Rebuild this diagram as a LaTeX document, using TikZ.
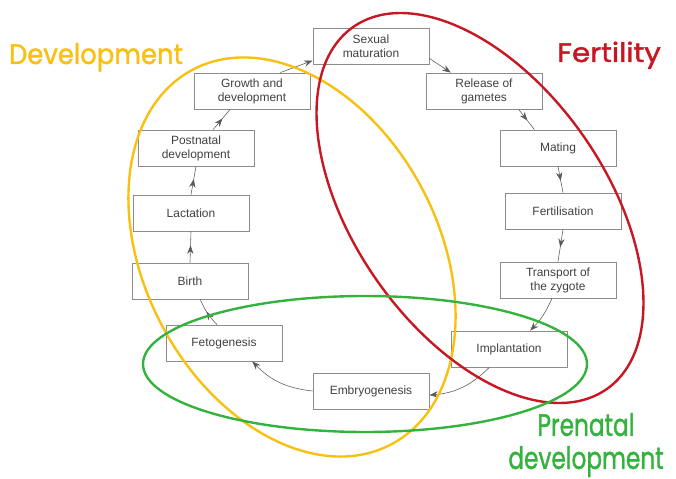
\documentclass[tikz,border=0pt]{standalone}
\usepackage{fontspec}
\setmainfont{Liberation Sans}
\newfontfamily\titlefont{Poppins}[FakeBold=1.4]
\usetikzlibrary{arrows.meta,decorations.markings}
\definecolor{gelb}{RGB}{248,192,16}
\definecolor{rot}{RGB}{200,22,34}
\definecolor{gruen}{RGB}{52,178,62}
\tikzstyle{stage} = [draw=black!45,line width=0.6pt,minimum width=2.9cm,minimum height=0.9cm,inner sep=1pt,align=center,font=\fontsize{8.5}{10}\selectfont,text=black!75]
\tikzstyle{flow} = [draw=black!65,thin,-{Stealth[length=6pt,width=4.5pt]}]
\tikzstyle{midflow} = [draw=black!65,thin,postaction={decorate},decoration={markings,mark=at position 0.55 with {\arrow{Stealth[length=6pt,width=4.5pt]}}}]
\tikzstyle{ring} = [line width=1.7pt]
\tikzstyle{title} = [anchor=base,inner sep=0pt,font=\titlefont]

\begin{document}
\begin{tikzpicture}[x=0.025cm,y=-0.025cm]
\useasboundingbox (0,0) rectangle (676,479);
% stages of the cycle
\node[stage] (sexual) at (371,46) {Sexual\\maturation};
\node[stage] (release) at (484,91) {Release of\\gametes};
\node[stage] (mating) at (558,148) {Mating};
\node[stage] (fertil) at (563,211) {Fertilisation};
\node[stage] (transport) at (558,280) {Transport of\\the zygote};
\node[stage] (implant) at (509,349) {Implantation};
\node[stage] (embryo) at (371,391) {Embryogenesis};
\node[stage] (feto) at (224,343) {Fetogenesis};
\node[stage] (birth) at (190,281) {Birth};
\node[stage] (lact) at (191,213) {Lactation};
\node[stage] (postnatal) at (196,148) {Postnatal\\development};
\node[stage] (growth) at (252,91) {Growth and\\development};
% connectors
\draw[flow] (growth.33) -- (sexual.194);
\draw[flow] (sexual.-12) -- (release.151);
\draw[midflow] (release.-28) -- (mating.142);
\draw[midflow] (mating.south) -- (fertil.north);
\draw[midflow] (fertil.south) -- (transport.north);
\draw[flow] (transport.-108) to[bend left=10] (implant.41);
\draw[flow] (implant.223) to[bend left=20] (embryo.-4);
\draw[flow] (embryo.west) to[bend left=20] (feto.-33);
\draw[midflow] (feto.111) to[bend left=10] (birth.-61);
\draw[midflow] (birth.north) -- (lact.south);
\draw[midflow] (lact.north) -- (postnatal.south);
\draw[midflow] (postnatal.47) -- (growth.220);
% groups
\draw[gelb,ring,rotate around={28:(292,257)}] (292,257) ellipse [x radius=147, y radius=212];
\draw[rot,ring,rotate around={35:(480,208)}] (480,208) ellipse [x radius=126, y radius=221];
\draw[gruen,ring] (365,364) ellipse [x radius=222, y radius=68];
\node[title,text=gelb] (devlabel) at (96,64) {\fontsize{20}{22}\selectfont\scalebox{0.92}[1]{Development}};
\node[title,text=rot] (fertlabel) at (609,62) {\fontsize{19}{21}\selectfont\scalebox{1.1}[1]{Fertility}};
\node[title,text=gruen,anchor=center,align=center,font=\titlefont\fontsize{22}{23.5}\selectfont] (prelabel) at (586,445) {\scalebox{0.75}[1]{Prenatal}\\\scalebox{0.75}[1]{development}};
\end{tikzpicture}
\end{document}
